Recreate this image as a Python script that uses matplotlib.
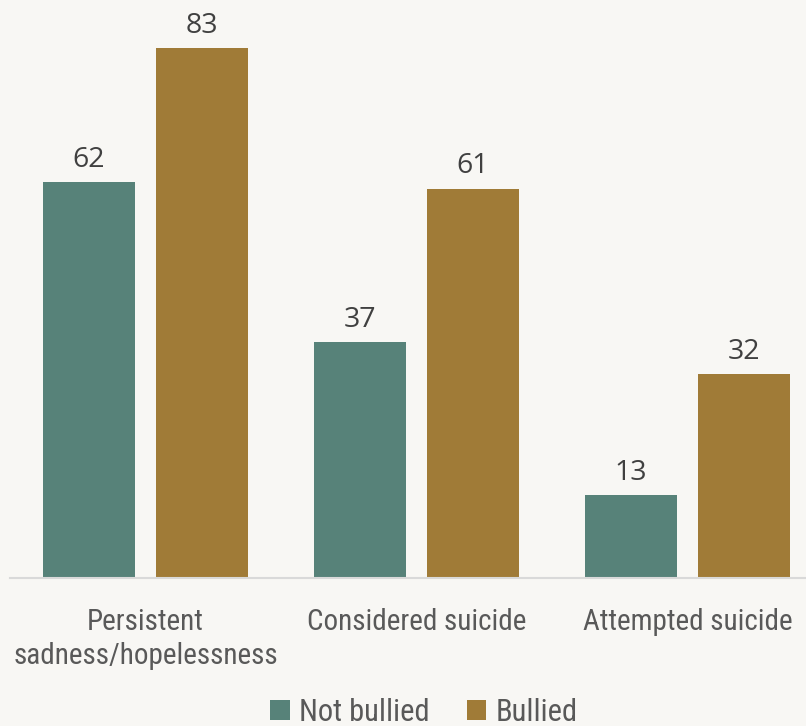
import matplotlib
matplotlib.use("Agg")
import matplotlib.pyplot as plt
from matplotlib import font_manager as fm
import numpy as np

categories = ["Persistent\nsadness/hopelessness", "Considered suicide", "Attempted suicide"]
series_names = ["Not bullied", "Bullied"]
not_bullied = [62, 37, 13]
bullied = [83, 61, 32]

def pick(fams):
    for f in fams:
        try:
            fm.findfont(fm.FontProperties(family=f), fallback_to_default=False)
            return f
        except Exception:
            pass
    return "DejaVu Sans"

narrow = pick(["Liberation Sans Narrow", "Roboto Condensed", "Liberation Sans"])
numfont = pick(["Open Sans", "Noto Sans"])

bg = "#f8f7f4"
c_teal = "#578279"
c_gold = "#a07b37"

fig = plt.figure(figsize=(8.06, 7.26), dpi=100, facecolor=bg)
W, H = 806, 726
left_px, right_px = 10, 823
base_px = 578
ppu = 6.38
ymax = 90
ax = fig.add_axes([left_px / W, (H - base_px) / H, (right_px - left_px) / W, ymax * ppu / H])
ax.set_facecolor(bg)

x = np.arange(len(categories))
bw = 92 / 271
off = 56.5 / 271
b1 = ax.bar(x - off, not_bullied, bw, color=c_teal, label=series_names[0], zorder=2)
b2 = ax.bar(x + off, bullied, bw, color=c_gold, label=series_names[1], zorder=2)

for bars in (b1, b2):
    ax.bar_label(bars, padding=6, fontsize=20.5, color="#404040", family=numfont)

ax.set_xlim(-0.5, 2.5)
ax.set_ylim(0, ymax)
ax.set_yticks([])
ax.set_xticks(x)
ax.set_xticklabels(categories, fontsize=21, color="#595959", family=narrow, linespacing=1.3)
ax.tick_params(axis="x", length=0, pad=21.5)
for s in ["top", "right", "left"]:
    ax.spines[s].set_visible(False)
ax.spines["bottom"].set_color("#d9d9d9")
ax.spines["bottom"].set_linewidth(1.5)
ax.spines["bottom"].set_clip_on(False)

leg = fig.legend(loc="lower center", bbox_to_anchor=(424 / W, -0.039), ncol=2, frameon=False,
                 prop={"family": narrow, "size": 22}, handlelength=0.65, handleheight=0.65,
                 handletextpad=0.3, columnspacing=1.2, labelcolor="#595959")

fig.savefig("out.png", dpi=100, facecolor=bg)
